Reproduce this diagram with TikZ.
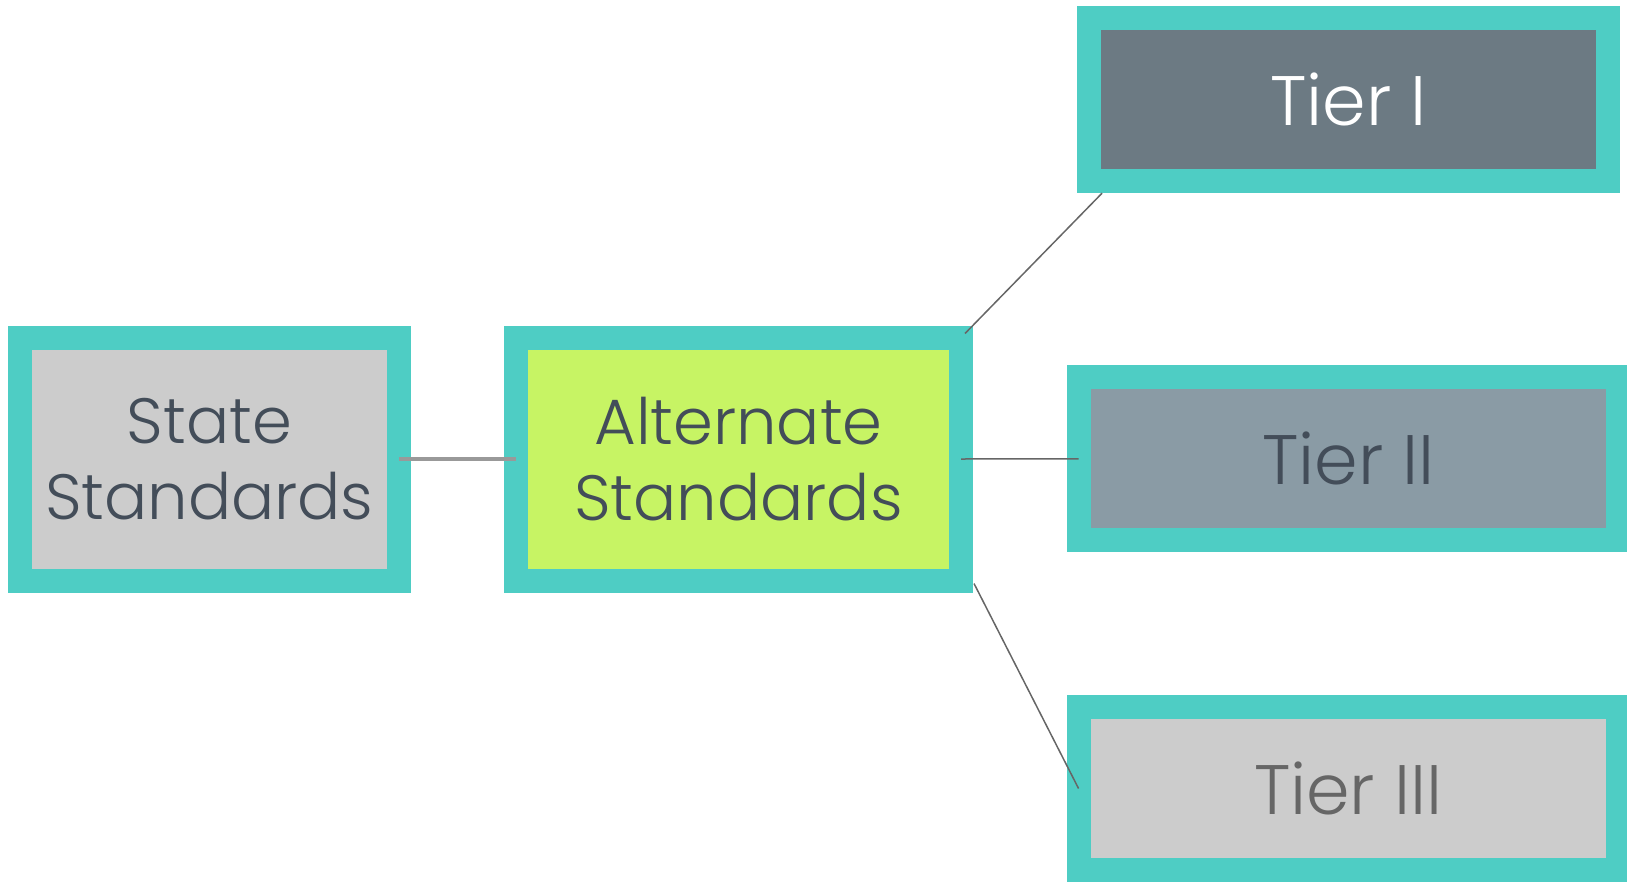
\documentclass[tikz,border=0pt]{standalone}
\usepackage{fontspec}
\setmainfont{Poppins Light}
\usetikzlibrary{calc}
\definecolor{tealedge}{HTML}{4ECDC4}
\definecolor{altlime}{HTML}{C7F464}
\definecolor{boxgray}{HTML}{CCCCCC}
\definecolor{tierone}{HTML}{6C7A83}
\definecolor{tiertwo}{HTML}{8A9BA5}
\definecolor{textdark}{HTML}{434D59}
\definecolor{textthree}{HTML}{666666}
\definecolor{linegray}{HTML}{999999}
\definecolor{linedark}{HTML}{666666}

\begin{document}
\begin{tikzpicture}[x=1pt,y=-1pt,
    box/.style={draw=tealedge,line width=24pt,inner sep=0pt,outer sep=0pt,
        align=center,font=\fontsize{64}{76}\selectfont},
    std/.style={box,minimum width=379pt,minimum height=243pt},
    tier/.style={box,minimum width=539.5pt,minimum height=163pt,
        font=\fontsize{70}{80}\selectfont}]
\useasboundingbox (0,0) rectangle (1627,881);
\clip (0,0) rectangle (1627,881);
\node[std,fill=boxgray,text=textdark] (state) at (209.3,459) {State\\Standards};
\node[std,fill=altlime,text=textdark,minimum width=445pt] (alt) at (738.5,459) {Alternate\\Standards};
\node[tier,fill=tierone,text=white,minimum width=518.6pt] (tierI) at (1348.7,99.7) {Tier I};
\node[tier,fill=tiertwo,text=textdark] (tierII) at (1348.3,458.8) {Tier II};
\node[tier,fill=boxgray,text=textthree] (tierIII) at (1348.3,788.5) {Tier III};
\draw[line width=4pt,linegray] (state.east) -- (alt.west);
\draw[line width=1.5pt,linedark] ($(alt.north east)+(4,-4)$) -- ($(tierI.south west)+(12.6,12)$);
\draw[line width=1.5pt,linedark] (alt.east) -- (tierII.west);
\draw[line width=1.5pt,linedark] ($(alt.south east)+(13,3)$) -- (tierIII.west);
\end{tikzpicture}
\end{document}
